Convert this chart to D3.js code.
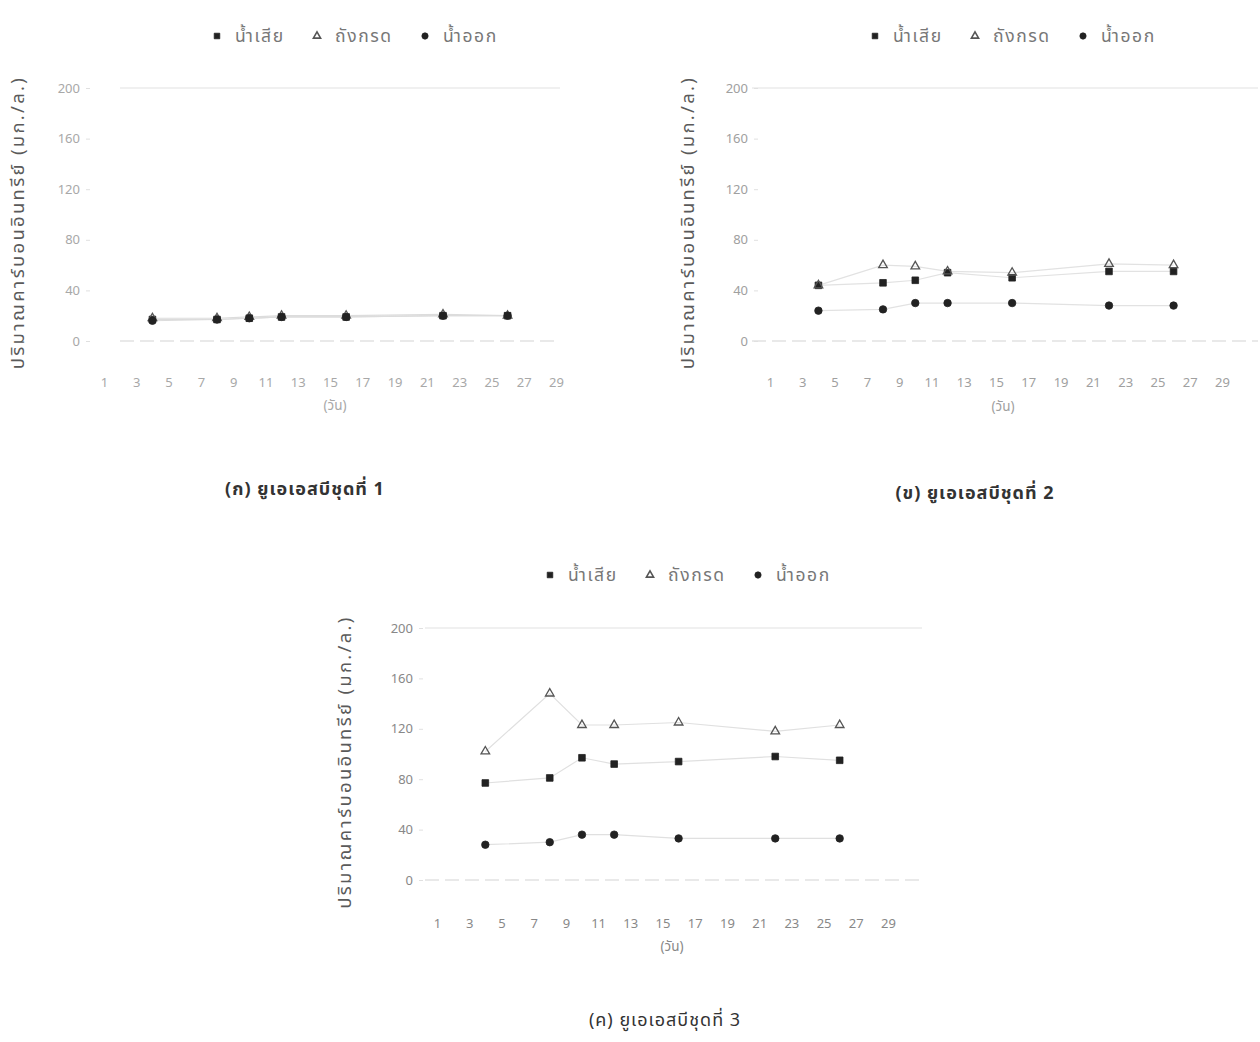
<!DOCTYPE html>
<html>
<head>
<meta charset="utf-8">
<script src="https://cdn.jsdelivr.net/npm/d3@7"></script>
<style>
  html, body { margin: 0; padding: 0; background: #fff; }
  svg { display: block; }
  text { font-family: "Noto Sans Thai", "Noto Sans", "DejaVu Sans", sans-serif; }
</style>
</head>
<body>
<svg id="chart" width="1260" height="1042"></svg>
<script>
// Sampling days (x values) shared by all three reactors
const days = [4, 8, 10, 12, 16, 22, 26];
const dayTicks = [1, 3, 5, 7, 9, 11, 13, 15, 17, 19, 21, 23, 25, 27, 29];
const valueTicks = [0, 40, 80, 120, 160, 200];

// Series names (legend)
const seriesNames = ["น้ำเสีย", "ถังกรด", "น้ำออก"];

// Organic carbon (mg/L), UASB set 1
const set1Waste = [17, 17, 18, 19, 19, 20, 20];
const set1Tank  = [18, 18, 19, 20, 20, 21, 20];
const set1Out   = [16, 17, 18, 19, 19, 20, 20];

// Organic carbon (mg/L), UASB set 2
const set2Waste = [44, 46, 48, 54, 50, 55, 55];
const set2Tank  = [44, 60, 59, 55, 54, 61, 60];
const set2Out   = [24, 25, 30, 30, 30, 28, 28];

// Organic carbon (mg/L), UASB set 3
const set3Waste = [77, 81, 97, 92, 94, 98, 95];
const set3Tank  = [102, 148, 123, 123, 125, 118, 123];
const set3Out   = [28, 30, 36, 36, 33, 33, 33];

const captions = ["(ก) ยูเอเอสบีชุดที่ 1", "(ข) ยูเอเอสบีชุดที่ 2", "(ค) ยูเอเอสบีชุดที่ 3"];
const yTitle = "ปริมาณคาร์บอนอินทรีย์ (มก./ล.)";
const xTitle = "(วัน)";

const svg = d3.select("#chart");

// Panel layout: pixel frame of each small chart
const panels = [
  { series: [set1Waste, set1Tank, set1Out], caption: captions[0],
    xDay1: 104, xDay29: 556, y0: 341, y200: 88, gridL: 120, gridR: 560,
    tickRight: 82, xLabY: 387, xTitleX: 335, xTitleY: 410,
    yTitleX: 18, legendX: 217, legendY: 36, capX: 305, capY: 495, capBold: true,
    tickColor: "#a8a8a8", lineColor: "#dcdcdc" },
  { series: [set2Waste, set2Tank, set2Out], caption: captions[1],
    xDay1: 770, xDay29: 1222, y0: 341, y200: 88, gridL: 752, gridR: 1258,
    tickRight: 750, xLabY: 387, xTitleX: 1003, xTitleY: 411,
    yTitleX: 688, legendX: 875, legendY: 36, capX: 975, capY: 499, capBold: true,
    tickColor: "#a0a0a0", lineColor: "#e2e2e2" },
  { series: [set3Waste, set3Tank, set3Out], caption: captions[2],
    xDay1: 437, xDay29: 888, y0: 880, y200: 628, gridL: 425, gridR: 922,
    tickRight: 415, xLabY: 928, xTitleX: 672, xTitleY: 951,
    yTitleX: 345, legendX: 550, legendY: 575, capX: 665, capY: 1026, capBold: false,
    tickColor: "#888", lineColor: "#e0e0e0" }
];

const symbolTypes = [d3.symbolSquare, d3.symbolTriangle, d3.symbolCircle];
const symbolSizes = [44, 32, 44];
const symbolFill = ["#222", "none", "#222"];
const symbolStroke = ["#222", "#555", "#222"];

panels.forEach(p => {
  const g = svg.append("g");
  const x = d3.scaleLinear().domain([1, 29]).range([p.xDay1, p.xDay29]);
  const y = d3.scaleLinear().domain([0, 200]).range([p.y0, p.y200]);

  // faint top gridline and dashed baseline
  g.append("line")
    .attr("x1", p.gridL).attr("x2", p.gridR)
    .attr("y1", y(200)).attr("y2", y(200))
    .attr("stroke", "#e2e2e2").attr("stroke-width", 1.2);
  g.append("line")
    .attr("x1", p.gridL).attr("x2", p.gridR)
    .attr("y1", y(0)).attr("y2", y(0))
    .attr("stroke", "#d4d4d4").attr("stroke-width", 1.2)
    .attr("stroke-dasharray", "14,6");

  // y axis
  const yAxis = g.append("g")
    .attr("transform", `translate(${p.tickRight + 8},0)`)
    .call(d3.axisLeft(y).tickValues(valueTicks).tickSize(4).tickPadding(6));
  yAxis.select(".domain").remove();
  yAxis.selectAll(".tick line").attr("stroke", "#e0e0e0");
  yAxis.selectAll("text").attr("fill", p.tickColor).attr("font-size", 13);

  // x axis (day labels)
  const xAxis = g.append("g")
    .attr("transform", `translate(0,${p.xLabY - 12})`)
    .call(d3.axisBottom(x).tickValues(dayTicks).tickSize(0).tickPadding(3));
  xAxis.select(".domain").remove();
  xAxis.selectAll("text").attr("fill", p.tickColor).attr("font-size", 13);

  g.append("text")
    .attr("x", p.xTitleX).attr("y", p.xTitleY)
    .attr("text-anchor", "middle").attr("font-size", 13.5)
    .attr("fill", p.tickColor).text(xTitle);

  // y title
  g.append("text")
    .attr("transform", `translate(${p.yTitleX},${(y(0) + y(200)) / 2 + 8}) rotate(-90)`)
    .attr("text-anchor", "middle").attr("dominant-baseline", "central")
    .attr("font-size", 18.5).attr("letter-spacing", 2.3)
    .attr("fill", "#5a5a5a").text(yTitle);

  // connecting lines
  const line = d3.line().x((d, i) => x(days[i])).y(d => y(d));
  p.series.forEach(vals => {
    g.append("path").datum(vals)
      .attr("d", line).attr("fill", "none")
      .attr("stroke", p.lineColor).attr("stroke-width", 1.2);
  });

  // markers
  p.series.forEach((vals, si) => {
    g.selectAll(null).data(vals).enter().append("path")
      .attr("transform", (d, i) => `translate(${x(days[i])},${y(d)})`)
      .attr("d", d3.symbol().type(symbolTypes[si]).size(symbolSizes[si]))
      .attr("fill", symbolFill[si])
      .attr("stroke", symbolStroke[si])
      .attr("stroke-width", si === 1 ? 1.3 : 0.8);
  });

  // legend
  const offsets = [0, 100, 208];
  seriesNames.forEach((name, si) => {
    const lx = p.legendX + offsets[si];
    g.append("path")
      .attr("transform", `translate(${lx},${p.legendY})`)
      .attr("d", d3.symbol().type(symbolTypes[si]).size(symbolSizes[si] * 0.7))
      .attr("fill", si === 1 ? "#fff" : symbolFill[si]).attr("stroke", symbolStroke[si])
      .attr("stroke-width", si === 1 ? 1.6 : 0.8);
    g.append("text")
      .attr("x", lx + 18).attr("y", p.legendY + 6)
      .attr("font-size", 17.5).attr("letter-spacing", 1.6)
      .attr("fill", "#777").text(name);
  });

  // caption
  g.append("text")
    .attr("x", p.capX).attr("y", p.capY)
    .attr("text-anchor", "middle").attr("font-size", 18)
    .attr("letter-spacing", 1)
    .attr("font-weight", p.capBold ? "bold" : "normal")
    .attr("fill", "#333").text(p.caption);
});
</script>
</body>
</html>
